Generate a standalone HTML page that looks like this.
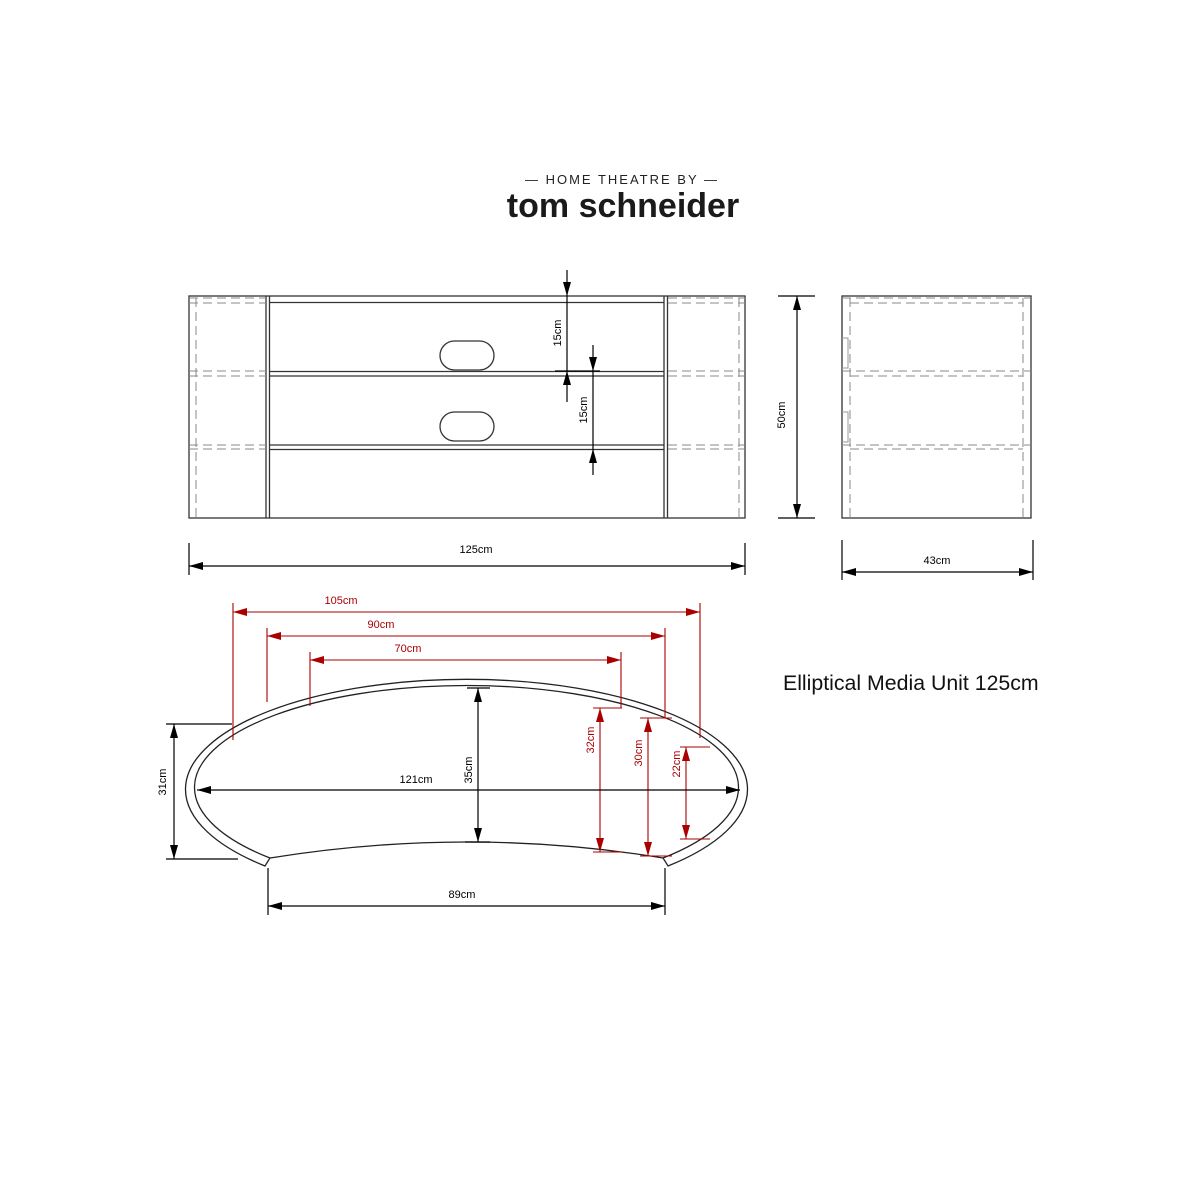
<!DOCTYPE html>
<html><head><meta charset="utf-8"><style>
html,body{margin:0;padding:0;background:#fff}
svg{display:block}
text{font-family:"Liberation Sans",Arial,sans-serif}
</style></head><body>
<svg width="1200" height="1200" viewBox="0 0 1200 1200" xmlns="http://www.w3.org/2000/svg">
<defs>
<marker id="a" viewBox="0 0 14 8" refX="14" refY="4" markerWidth="14" markerHeight="8" markerUnits="userSpaceOnUse" orient="auto-start-reverse"><path d="M0,0L14,4L0,8z" fill="#000"/></marker>
<marker id="r" viewBox="0 0 14 8" refX="14" refY="4" markerWidth="14" markerHeight="8" markerUnits="userSpaceOnUse" orient="auto-start-reverse"><path d="M0,0L14,4L0,8z" fill="#a00"/></marker>
</defs>
<rect width="1200" height="1200" fill="#fff"/>
<!-- header -->
<text x="622" y="184" font-size="13" text-anchor="middle" letter-spacing="2" fill="#222">— HOME THEATRE BY —</text>
<text x="623" y="217" font-size="34" font-weight="bold" text-anchor="middle" fill="#1a1a1a">tom schneider</text>

<!-- front view -->
<g stroke="#333" fill="none" stroke-width="1.3">
<rect x="189" y="296" width="556" height="222"/>
<line x1="266" y1="296" x2="266" y2="518"/><line x1="269.5" y1="296" x2="269.5" y2="518"/>
<line x1="664" y1="296" x2="664" y2="518"/><line x1="667.5" y1="296" x2="667.5" y2="518"/>
<line x1="269" y1="302.5" x2="664" y2="302.5"/>
<line x1="269" y1="371.5" x2="664" y2="371.5"/><line x1="269" y1="376" x2="664" y2="376"/>
<line x1="269" y1="445" x2="664" y2="445"/><line x1="269" y1="449.5" x2="664" y2="449.5"/>
<rect x="440" y="341" width="54" height="29" rx="14.5"/>
<rect x="440" y="412" width="54" height="29" rx="14.5"/>
</g>
<g stroke="#888" fill="none" stroke-width="1" stroke-dasharray="9,5">
<line x1="196" y1="298" x2="196" y2="518"/><line x1="739" y1="298" x2="739" y2="518"/>
<line x1="189" y1="298" x2="266" y2="298"/><line x1="189" y1="303" x2="266" y2="303"/>
<line x1="189" y1="371" x2="266" y2="371"/><line x1="189" y1="376" x2="266" y2="376"/>
<line x1="189" y1="445" x2="266" y2="445"/><line x1="189" y1="449" x2="266" y2="449"/>
<line x1="668" y1="298" x2="745" y2="298"/><line x1="668" y1="303" x2="745" y2="303"/>
<line x1="668" y1="371" x2="745" y2="371"/><line x1="668" y1="376" x2="745" y2="376"/>
<line x1="668" y1="445" x2="745" y2="445"/><line x1="668" y1="449" x2="745" y2="449"/>
</g>
<!-- 15cm dims -->
<g stroke="#000" stroke-width="1.2">
<line x1="567" y1="270" x2="567" y2="296" marker-end="url(#a)"/>
<line x1="567" y1="296" x2="567" y2="371"/>
<line x1="567" y1="402" x2="567" y2="371" marker-end="url(#a)"/>
<line x1="555" y1="371" x2="600" y2="371"/>
<line x1="593" y1="345" x2="593" y2="371" marker-end="url(#a)"/>
<line x1="593" y1="371" x2="593" y2="449"/>
<line x1="593" y1="475" x2="593" y2="449" marker-end="url(#a)"/>
</g>
<text transform="translate(561,333) rotate(-90)" font-size="11" text-anchor="middle">15cm</text>
<text transform="translate(587,410) rotate(-90)" font-size="11" text-anchor="middle">15cm</text>
<!-- 50cm -->
<g stroke="#000" stroke-width="1.2">
<line x1="778" y1="296" x2="815" y2="296"/><line x1="778" y1="518" x2="815" y2="518"/>
<line x1="797" y1="296" x2="797" y2="518" marker-start="url(#a)" marker-end="url(#a)"/>
</g>
<text transform="translate(785,415) rotate(-90)" font-size="11" text-anchor="middle">50cm</text>
<!-- 125cm -->
<g stroke="#000" stroke-width="1.2">
<line x1="189" y1="543" x2="189" y2="575"/><line x1="745" y1="543" x2="745" y2="575"/>
<line x1="189" y1="566" x2="745" y2="566" marker-start="url(#a)" marker-end="url(#a)"/>
</g>
<text x="476" y="553" font-size="11" text-anchor="middle">125cm</text>

<!-- side view -->
<rect x="842" y="296" width="189" height="222" fill="none" stroke="#333" stroke-width="1.3"/>
<g stroke="#888" fill="none" stroke-width="1" stroke-dasharray="9,5">
<line x1="850" y1="298" x2="850" y2="518"/><line x1="1023" y1="298" x2="1023" y2="518"/>
<line x1="842" y1="298" x2="1031" y2="298"/><line x1="850" y1="303" x2="1023" y2="303"/>
<line x1="842" y1="371" x2="1031" y2="371"/><line x1="850" y1="376" x2="1023" y2="376"/>
<line x1="842" y1="445" x2="1031" y2="445"/><line x1="850" y1="449" x2="1023" y2="449"/>
</g>
<g stroke="#999" fill="none" stroke-width="1">
<path d="M842,338h6v30h-6"/><path d="M842,412h6v30h-6"/>
</g>
<!-- 43cm -->
<g stroke="#000" stroke-width="1.2">
<line x1="842" y1="540" x2="842" y2="580"/><line x1="1033" y1="540" x2="1033" y2="580"/>
<line x1="842" y1="572" x2="1033" y2="572" marker-start="url(#a)" marker-end="url(#a)"/>
</g>
<text x="937" y="564" font-size="11" text-anchor="middle">43cm</text>

<!-- elliptical plan -->
<g stroke="#222" fill="none" stroke-width="1.3">
<path d="M265,866 A281,110 0 1 1 668,866 L663,858 A272,102 0 1 0 270,858 Z"/>
<path d="M270,858 Q467,826 663,858"/>
</g>
<!-- red dims -->
<g stroke="#a00" stroke-width="1.1">
<line x1="233" y1="603" x2="233" y2="740"/><line x1="700" y1="603" x2="700" y2="738"/>
<line x1="233" y1="612" x2="700" y2="612" marker-start="url(#r)" marker-end="url(#r)"/>
<line x1="267" y1="628" x2="267" y2="702"/><line x1="665" y1="628" x2="665" y2="718"/>
<line x1="267" y1="636" x2="665" y2="636" marker-start="url(#r)" marker-end="url(#r)"/>
<line x1="310" y1="652" x2="310" y2="706"/><line x1="621" y1="652" x2="621" y2="708"/>
<line x1="310" y1="660" x2="621" y2="660" marker-start="url(#r)" marker-end="url(#r)"/>
<line x1="593" y1="708" x2="622" y2="708"/><line x1="593" y1="852" x2="622" y2="852"/>
<line x1="600" y1="708" x2="600" y2="852" marker-start="url(#r)" marker-end="url(#r)"/>
<line x1="640" y1="718" x2="672" y2="718"/><line x1="640" y1="856" x2="672" y2="856"/>
<line x1="648" y1="718" x2="648" y2="856" marker-start="url(#r)" marker-end="url(#r)"/>
<line x1="680" y1="747" x2="710" y2="747"/><line x1="680" y1="839" x2="710" y2="839"/>
<line x1="686" y1="747" x2="686" y2="839" marker-start="url(#r)" marker-end="url(#r)"/>
</g>
<g fill="#a00" font-size="11" text-anchor="middle">
<text x="341" y="604">105cm</text>
<text x="381" y="628">90cm</text>
<text x="408" y="652">70cm</text>
<text transform="translate(594,740) rotate(-90)">32cm</text>
<text transform="translate(642,753) rotate(-90)">30cm</text>
<text transform="translate(680,764) rotate(-90)">22cm</text>
</g>
<!-- black dims -->
<g stroke="#000" stroke-width="1.2">
<line x1="467" y1="688" x2="490" y2="688"/><line x1="465" y1="842" x2="490" y2="842"/>
<line x1="478" y1="688" x2="478" y2="842" marker-start="url(#a)" marker-end="url(#a)"/>
<line x1="197" y1="790" x2="740" y2="790" marker-start="url(#a)" marker-end="url(#a)"/>
<line x1="166" y1="724" x2="232" y2="724"/><line x1="166" y1="859" x2="238" y2="859"/>
<line x1="174" y1="724" x2="174" y2="859" marker-start="url(#a)" marker-end="url(#a)"/>
<line x1="268" y1="868" x2="268" y2="915"/><line x1="665" y1="868" x2="665" y2="915"/>
<line x1="268" y1="906" x2="665" y2="906" marker-start="url(#a)" marker-end="url(#a)"/>
</g>
<g font-size="11" text-anchor="middle" fill="#000">
<text transform="translate(472,770) rotate(-90)">35cm</text>
<text x="416" y="783">121cm</text>
<text transform="translate(166,782) rotate(-90)">31cm</text>
<text x="462" y="898">89cm</text>
</g>
<text x="783" y="690" font-size="21.3" fill="#111">Elliptical Media Unit 125cm</text>
</svg>
</body></html>
